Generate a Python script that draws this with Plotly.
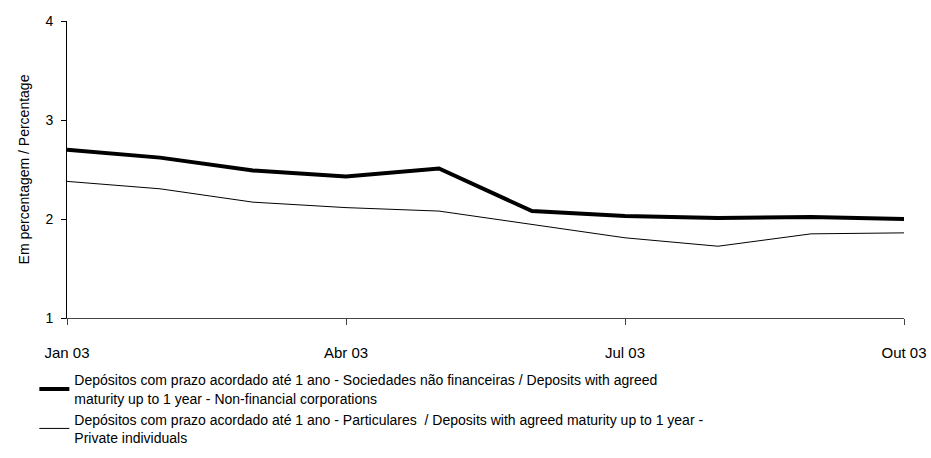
import plotly.graph_objects as go

months = ["Jan 03", "Fev 03", "Mar 03", "Abr 03", "Mai 03", "Jun 03",
          "Jul 03", "Ago 03", "Set 03", "Out 03"]
corporations = [2.70, 2.62, 2.49, 2.43, 2.51, 2.08, 2.03, 2.01, 2.02, 2.00]
individuals = [2.38, 2.305, 2.17, 2.115, 2.08, 1.945, 1.81, 1.725, 1.85, 1.86]
tick_labels = ["Jan 03", "Abr 03", "Jul 03", "Out 03"]
y_ticks = [1, 2, 3, 4]

name1 = ("Depósitos com prazo acordado até 1 ano - Sociedades não financeiras / Deposits with agreed<br>"
         "maturity up to 1 year - Non-financial corporations")
name2 = ("Depósitos com prazo acordado até 1 ano - Particulares  / Deposits with agreed maturity up to 1 year -<br>"
         "Private individuals")

FONT = "Liberation Sans, Arial, sans-serif"

fig = go.Figure()
fig.add_trace(go.Scatter(x=months, y=corporations, mode="lines", name=name1,
                         line=dict(color="#000000", width=4)))
fig.add_trace(go.Scatter(x=months, y=individuals, mode="lines", name=name2,
                         line=dict(color="#000000", width=1)))

fig.update_layout(
    width=931, height=458,
    margin=dict(l=67, r=27, t=21, b=139.5, autoexpand=False),
    paper_bgcolor="white", plot_bgcolor="white",
    font=dict(family=FONT, size=14, color="#000000"),
    showlegend=True,
    legend=dict(x=-0.039, xanchor="left", y=-0.156, yanchor="top",
                font=dict(size=14), tracegroupgap=0, bgcolor="rgba(0,0,0,0)"),
    xaxis=dict(type="category", range=[0, 9], tickmode="array",
               tickvals=tick_labels, ticktext=tick_labels,
               showline=True, linecolor="#444444", linewidth=1,
               ticks="outside", ticklen=6, tickcolor="#444444",
               showgrid=False, zeroline=False, ticklabelstandoff=15,
               automargin=False, tickfont=dict(size=15)),
    yaxis=dict(range=[1, 4], tickvals=y_ticks, showline=True,
               linecolor="#000000", linewidth=1, ticks="outside", ticklen=5,
               tickcolor="#000000", showgrid=False, zeroline=False,
               ticklabelstandoff=5, automargin=False,
               title=dict(text="Em percentagem / Percentage", standoff=12,
                          font=dict(size=14)),
               tickfont=dict(size=14)),
)

fig.write_html("out.html", config={"displayModeBar": False},
               post_script="document.body.style.margin='0';")
